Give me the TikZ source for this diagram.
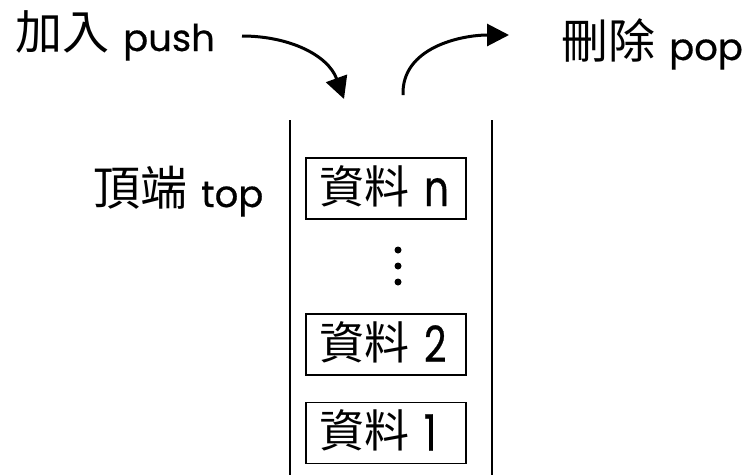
\documentclass[tikz,border=0pt]{standalone}
\usepackage{fontspec}
\setmainfont{Poppins}[FakeBold=0.5]
\newfontfamily\latc{Poppins}[FakeBold=0.5, FakeStretch=0.78]
\newfontfamily\cjk{Noto Sans CJK TC}
\usetikzlibrary{arrows.meta}
\tikzset{
  lbl/.style={anchor=base west, inner sep=0pt, font=\fontsize{37}{40}\selectfont},
  cell/.style={draw, line width=1.5pt, minimum width=160pt, minimum height=61pt, inner sep=0pt,
    text height=40pt, text depth=5pt, font=\latc\fontsize{50}{54}\selectfont},
  wall/.style={line width=1.5pt},
  arr/.style={line width=3pt, -{Triangle[length=22pt,width=22pt]}},
  dot/.style={circle, fill, inner sep=0pt, minimum size=7pt}
}
\newcommand{\cj}[1]{\raisebox{1.5pt}{\cjk\fontsize{47}{50}\selectfont #1}\hspace{14pt}}
\newcommand{\cb}[2]{\makebox[134pt][l]{\raisebox{3pt}[0pt][0pt]{\cjk\fontsize{45}{48}\selectfont #1}\hspace{15pt}#2}}
\begin{document}
\begin{tikzpicture}[x=1pt,y=-1pt]
\useasboundingbox (0,0) rectangle (749,475);
\node[lbl] (push) at (15,51) {\cj{加入}push};
\node[lbl] (pop) at (561,60) {\cj{刪除}pop};
\node[lbl] (top) at (93,207) {\cj{頂端}top};
\coordinate (wlt) at (290,120);
\coordinate (wlb) at (290,475);
\coordinate (wrt) at (492,120);
\coordinate (wrb) at (492,475);
\draw[wall] (wlt) -- (wlb);
\draw[wall] (wrt) -- (wrb);
\node[cell] (dn) at (386,188.5) {\cb{資料}{n}};
\node[cell] (d2) at (386,344.5) {\cb{資料}{2}};
\node[cell] (d1) at (386,433) {\cb{資料}{1}};
\node[dot] (v1) at (398,250) {};
\node[dot] (v2) at (398,266) {};
\node[dot] (v3) at (398,282) {};
\coordinate (ps) at (242,36);
\coordinate (pe) at (344,99);
\coordinate (os) at (403,95);
\coordinate (oe) at (509,35);
\draw[arr] (ps) to[out=0,in=110] (pe);
\draw[arr] (os) to[out=92,in=180] (oe);
\end{tikzpicture}
\end{document}
